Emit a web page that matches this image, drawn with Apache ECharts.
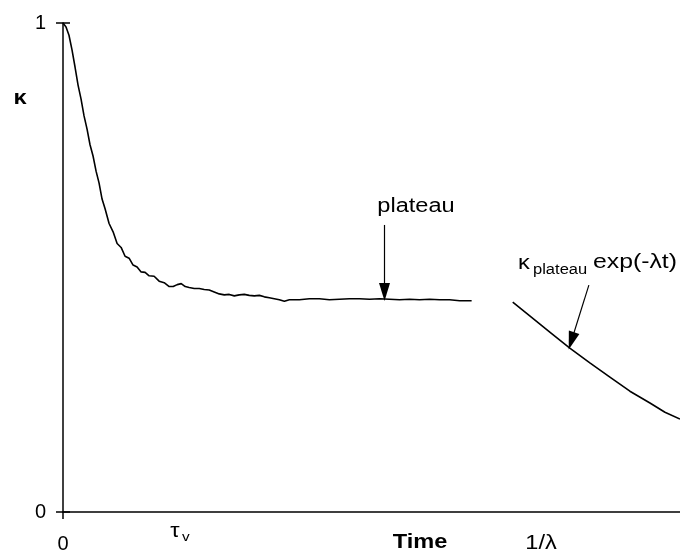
<!DOCTYPE html>
<html>
<head>
<meta charset="utf-8">
<script src="https://cdn.jsdelivr.net/npm/echarts@6/dist/echarts.min.js"></script>
<style>
html,body{margin:0;padding:0;background:#fff;}
#chart{width:680px;height:552px;}
</style>
</head>
<body>
<div id="chart"></div>
<script>
// Relaxation curve (time in arbitrary units 0..100, kappa 0..1)
var decayTime = [0, 0.49, 0.97, 1.46, 1.95, 2.44, 2.92, 3.41, 3.90, 4.38, 4.87, 5.36, 5.84, 6.33, 6.82, 7.47, 8.12, 8.77, 9.42, 10.06, 10.71, 11.36, 12.01, 12.66, 13.31, 13.96, 14.77, 15.58, 16.40, 17.21, 17.86, 18.51, 19.16, 19.81, 20.45, 21.27, 22.08, 22.89, 23.70, 24.51, 25.32, 26.14, 26.95, 27.76, 28.57, 29.38, 30.19, 31.01, 31.82, 32.63, 33.44, 34.25, 35.06, 35.88, 36.69, 38.31, 39.94, 41.56, 43.18, 44.81, 46.43, 48.05, 49.68, 51.30, 52.92, 54.55, 56.17, 57.79, 59.42, 61.04, 62.66, 64.29, 66.23];
var decayKappa = [1.000, 0.992, 0.975, 0.945, 0.910, 0.873, 0.845, 0.810, 0.783, 0.751, 0.728, 0.697, 0.673, 0.640, 0.620, 0.590, 0.573, 0.549, 0.541, 0.523, 0.519, 0.505, 0.501, 0.491, 0.490, 0.483, 0.482, 0.472, 0.469, 0.461, 0.461, 0.465, 0.467, 0.461, 0.459, 0.457, 0.457, 0.455, 0.454, 0.450, 0.446, 0.444, 0.445, 0.442, 0.444, 0.445, 0.443, 0.442, 0.443, 0.440, 0.438, 0.436, 0.434, 0.431, 0.434, 0.434, 0.436, 0.436, 0.434, 0.435, 0.436, 0.436, 0.435, 0.436, 0.435, 0.434, 0.435, 0.434, 0.435, 0.434, 0.434, 0.432, 0.432];
// Exponential tail kappa_plateau * exp(-lambda t)
var tailTime = [72.89, 75.65, 78.90, 82.14, 85.39, 88.64, 91.88, 95.13, 97.56, 100];
var tailKappa = [0.429, 0.401, 0.368, 0.335, 0.305, 0.276, 0.247, 0.223, 0.204, 0.190];
// Annotation arrows [x1, y1, x2, y2] in data units
var plateauArrow = [52.11, 0.587, 52.11, 0.450];
var tailArrow = [85.23, 0.464, 82.40, 0.350];
var yTicks = [0, 1];
var xTicks = [0];

function zip(a, b) { var r = []; for (var i = 0; i < a.length; i++) r.push([a[i], b[i]]); return r; }

var FONT = '"Liberation Sans", Arial, sans-serif';
var SX = 1.18;
function txt(s, x, y, size, bold, align) {
  return {
    type: 'text', x: x, y: y, scaleX: SX, silent: true,
    style: { text: s, fill: '#000', font: (bold ? 'bold ' : '') + size + 'px ' + FONT,
             align: align || 'center', verticalAlign: 'middle' }
  };
}

var chart = echarts.init(document.getElementById('chart'), null, { renderer: 'canvas' });
chart.setOption({
  animation: false,
  backgroundColor: '#fff',
  grid: { left: 63, right: 0, top: 23, bottom: 40, containLabel: false, outerBoundsMode: 'none' },
  xAxis: {
    type: 'value', min: 0, max: 100, interval: 100,
    axisLine: { lineStyle: { color: '#000', width: 1.5 } },
    axisTick: { show: true, length: 7, customValues: xTicks, lineStyle: { color: '#000', width: 1.5 } },
    axisLabel: { show: true, customValues: xTicks, margin: 22, fontSize: 20, color: '#000', fontFamily: FONT },
    splitLine: { show: false }
  },
  yAxis: [{
    type: 'value', min: 0, max: 1, interval: 1,
    axisLine: { show: true, lineStyle: { color: '#000', width: 1.5 } },
    axisTick: { show: true, length: 7, lineStyle: { color: '#000', width: 1.5 } },
    axisLabel: { show: true, margin: 17, fontSize: 20, color: '#000', fontFamily: FONT },
    splitLine: { show: false }
  }, {
    type: 'value', min: 0, max: 1, interval: 1, position: 'left', offset: 0,
    axisLine: { show: false },
    axisTick: { show: true, inside: true, length: 7, lineStyle: { color: '#000', width: 1.5 } },
    axisLabel: { show: false },
    splitLine: { show: false }
  }],
  series: [{
    type: 'line', data: zip(decayTime, decayKappa), showSymbol: false, symbol: 'none',
    lineStyle: { color: '#000', width: 1.6 }, silent: true,
    markLine: {
      silent: true, symbol: ['none', 'triangle'], symbolSize: [11, 18],
      label: { show: false },
      lineStyle: { color: '#000', width: 1.2, type: 'solid' },
      data: [
        [{ coord: [plateauArrow[0], plateauArrow[1]] }, { coord: [plateauArrow[2], plateauArrow[3]] }],
        [{ coord: [tailArrow[0], tailArrow[1]] }, { coord: [tailArrow[2], tailArrow[3]] }]
      ]
    }
  }, {
    type: 'line', data: zip(tailTime, tailKappa), showSymbol: false, symbol: 'none',
    lineStyle: { color: '#000', width: 1.6 }, silent: true
  }],
  graphic: [
    txt('κ', 20, 98, 20, true),
    txt('τ', 175, 531, 20, false),
    txt('v', 182, 537, 13, false, 'left'),
    txt('Time', 420, 542, 20, true),
    txt('1/λ', 541, 543, 20, false),
    txt('plateau', 416, 206, 20, false),
    txt('κ', 524, 263, 20, false),
    txt('plateau', 533, 270, 14, false, 'left'),
    txt('exp(-λt)', 593, 262, 21, false, 'left')
  ]
});
</script>
</body>
</html>
